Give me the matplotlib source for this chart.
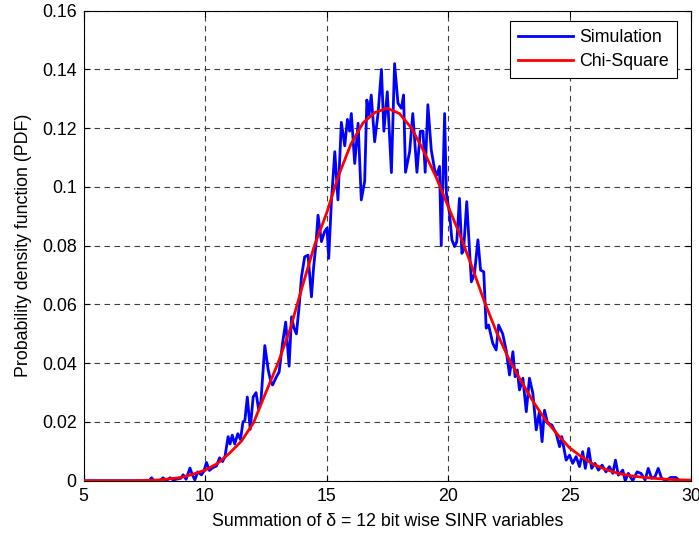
import matplotlib
matplotlib.use("Agg")
import matplotlib.pyplot as plt

# ---- data ----
sim_x = [5.0, 7.5, 7.7, 7.8, 7.9, 8.15, 8.27, 8.4, 8.56, 8.7, 8.85, 9.0, 9.1, 9.22, 9.38, 9.48, 9.58,
         9.7, 9.85, 9.95, 10.06, 10.18, 10.33, 10.47, 10.6, 10.72, 10.82, 10.95, 11.03, 11.12, 11.22,
         11.35, 11.46, 11.56, 11.64, 11.74, 11.86, 11.98, 12.1, 12.2, 12.3, 12.46, 12.6, 12.7, 12.78,
         12.94, 13.05, 13.19, 13.32, 13.46, 13.56, 13.66, 13.76, 13.88, 13.97, 14.1, 14.24, 14.38,
         14.47, 14.56, 14.65, 14.79, 14.92, 15.02, 15.09, 15.2, 15.34, 15.47, 15.61, 15.75, 15.86,
         15.95, 16.02, 16.16, 16.3, 16.43, 16.57, 16.66, 16.75, 16.84, 16.98, 17.12, 17.26, 17.36,
         17.5, 17.67, 17.8, 17.94, 18.08, 18.17, 18.25, 18.42, 18.55, 18.72, 18.86, 18.97, 19.06,
         19.17, 19.31, 19.45, 19.54, 19.65, 19.72, 19.86, 19.93, 20.06, 20.16, 20.27, 20.36, 20.47,
         20.57, 20.64, 20.77, 20.96, 21.09, 21.23, 21.34, 21.47, 21.57, 21.67, 21.84, 21.98, 22.08,
         22.25, 22.39, 22.53, 22.67, 22.76, 22.85, 22.94, 23.08, 23.22, 23.35, 23.49, 23.63, 23.76,
         23.87, 23.97, 24.1, 24.27, 24.45, 24.59, 24.68, 24.86, 25.0, 25.13, 25.27, 25.41, 25.54,
         25.65, 25.79, 25.91, 26.05, 26.19, 26.34, 26.5, 26.64, 26.78, 26.89, 27.01, 27.19, 27.29,
         27.42, 27.6, 27.78, 27.94, 28.11, 28.24, 28.38, 28.52, 28.65, 28.79, 28.97, 29.15, 29.38,
         29.52, 29.79, 30.0]
sim_y = [0.0, 0.0, 0.0, 0.001, 0.0, 0.0, 0.001, 0.0, 0.001, 0.0002, 0.0006, 0.0008, 0.002, 0.0005,
         0.0043, 0.002, 0.0003, 0.003, 0.002, 0.0032, 0.0062, 0.0035, 0.0045, 0.005, 0.0078, 0.0065,
         0.0082, 0.015, 0.0125, 0.0155, 0.0125, 0.016, 0.014, 0.020, 0.0205, 0.0285, 0.0175, 0.0285,
         0.030, 0.0245, 0.027, 0.046, 0.0377, 0.034, 0.0326, 0.0354, 0.037, 0.0468, 0.054, 0.039,
         0.0558, 0.052, 0.050, 0.060, 0.0694, 0.0762, 0.0768, 0.0626, 0.0728, 0.080, 0.0904, 0.0814,
         0.0848, 0.086, 0.0757, 0.095, 0.112, 0.0956, 0.122, 0.114, 0.123, 0.119, 0.125, 0.108,
         0.1217, 0.0956, 0.102, 0.1296, 0.1245, 0.1313, 0.1154, 0.125, 0.140, 0.119, 0.1324, 0.1049,
         0.142, 0.1285, 0.1268, 0.1313, 0.105, 0.112, 0.125, 0.105, 0.119, 0.119, 0.105, 0.128,
         0.1126, 0.1058, 0.104, 0.107, 0.080, 0.125, 0.098, 0.091, 0.082, 0.0797, 0.0814, 0.0961,
         0.0774, 0.0785, 0.095, 0.0677, 0.0706, 0.082, 0.0717, 0.0711, 0.0519, 0.053, 0.0468, 0.0445,
         0.053, 0.050, 0.0445, 0.036, 0.0439, 0.0354, 0.0377, 0.0309, 0.0349, 0.0235, 0.0349, 0.0298,
         0.0173, 0.0235, 0.0133, 0.024, 0.0195, 0.019, 0.0161, 0.0116, 0.015, 0.007, 0.0087, 0.0059,
         0.0082, 0.0048, 0.0099, 0.0042, 0.011, 0.0042, 0.0059, 0.0036, 0.0053, 0.003, 0.0048,
         0.0025, 0.007, 0.0019, 0.0036, 0.0, 0.0025, 0.0, 0.003, 0.0025, 0.0003, 0.0042, 0.0008,
         0.0014, 0.0042, 0.0008, 0.0, 0.0011, 0.0011, 0.0, 0.0, 0.0]

chi_x = [5.0, 7.0, 8.0, 8.5, 9.0, 9.5, 10.0, 10.5, 11.0, 11.5, 12.0, 12.5, 13.0, 13.5, 14.0, 14.5,
         15.0, 15.5, 16.0, 16.5, 17.0, 17.5, 18.0, 18.5, 19.0, 19.5, 20.0, 20.5, 21.0, 21.5, 22.0,
         22.5, 23.0, 23.5, 24.0, 24.5, 25.0, 25.5, 26.0, 26.5, 27.0, 27.5, 28.0, 28.5, 29.0, 29.5, 30.0]
chi_y = [0.0, 0.0, 0.0002, 0.0006, 0.0011, 0.0022, 0.0036, 0.0058, 0.0093, 0.0135, 0.0198, 0.0300,
         0.0400, 0.0515, 0.0660, 0.0800, 0.0910, 0.1040, 0.1145, 0.1218, 0.1254, 0.1268, 0.1250,
         0.1200, 0.1122, 0.1035, 0.0935, 0.0835, 0.0725, 0.0609, 0.0505, 0.0415, 0.0340, 0.0270,
         0.0208, 0.0158, 0.0112, 0.0081, 0.0055, 0.0038, 0.0025, 0.0017, 0.0012, 0.0008, 0.0005,
         0.0003, 0.0002]

x_ticks = [5, 10, 15, 20, 25, 30]
x_tick_labels = ["5", "10", "15", "20", "25", "30"]
y_ticks = [0, 0.02, 0.04, 0.06, 0.08, 0.1, 0.12, 0.14, 0.16]
y_tick_labels = ["0", "0.02", "0.04", "0.06", "0.08", "0.1", "0.12", "0.14", "0.16"]

# ---- figure ----
plt.rcParams['font.family'] = ['Liberation Sans', 'DejaVu Sans']
FS = 12.8
fig = plt.figure(figsize=(6.99, 5.33), dpi=100)
ax = fig.add_axes([0.1195, 0.0981, 0.8691, 0.8818])

ax.plot(sim_x, sim_y, color='#0000ff', lw=2.0, label='Simulation', zorder=3)
ax.plot(chi_x, chi_y, color='#ff0000', lw=2.0, label='Chi-Square', zorder=4)

ax.set_xlim(5, 30)
ax.set_ylim(0, 0.16)
ax.set_xticks(x_ticks)
ax.set_xticklabels(x_tick_labels)
ax.set_yticks(y_ticks)
ax.set_yticklabels(y_tick_labels)
ax.tick_params(direction='in', top=True, right=True, length=4, width=0.8,
               labelsize=FS, pad=5)
ax.grid(True, color='#404040', linestyle=(0, (5, 4)), linewidth=0.8)
for s in ax.spines.values():
    s.set_linewidth(0.8)

ax.set_xlabel('Summation of δ = 12 bit wise SINR variables', fontsize=FS, labelpad=6)
ax.set_ylabel('Probability density function (PDF)', fontsize=FS, labelpad=7)

leg = ax.legend(loc='upper right', bbox_to_anchor=(677 / 699, 1 - 21 / 533),
                bbox_transform=fig.transFigure, borderaxespad=0,
                fontsize=FS, fancybox=False, framealpha=1,
                edgecolor='black', handlelength=3.1, borderpad=0.45, labelspacing=0.4,
                handletextpad=0.35)
leg.get_frame().set_linewidth(0.8)

fig.savefig('out.png', dpi=100)
